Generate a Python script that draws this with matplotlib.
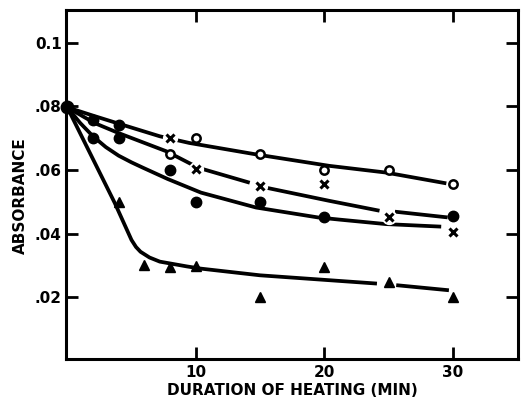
import numpy as np
import matplotlib
matplotlib.use("Agg")
import matplotlib.pyplot as plt

open_x = [8, 10, 15, 20, 25, 30]
open_y = [0.065, 0.070, 0.065, 0.060, 0.060, 0.0555]

cross_x = [8, 10, 15, 20, 25, 30]
cross_y = [0.070, 0.0603, 0.055, 0.0555, 0.0451, 0.0406]

dot_x = [2, 4, 2, 4, 8, 10, 15, 20, 30]
dot_y = [0.0756, 0.0743, 0.0701, 0.0701, 0.060, 0.050, 0.050, 0.0451, 0.0454]

tri_x = [4, 6, 8, 10, 15, 20, 25, 30]
tri_y = [0.0498, 0.030, 0.0295, 0.0297, 0.0201, 0.0295, 0.0248, 0.0201]

start_x = [0]
start_y = [0.0797]

# hand drawn curves (nan = break in the line)
curve_a_x = [0, 2, 3.9, 7.2, 9.5, 14.7, 20.4, 24.8, 29.5]
curve_a_y = [0.0797, 0.0771, 0.0747, 0.0706, 0.0685, 0.0649, 0.0613, 0.0592, 0.0558]
curve_b_x = [0, 2.1, 4, 7.7, 10.2, 14.2, np.nan, 15.4, 20.4, 24.3, np.nan, 25.5, 29.6]
curve_b_y = [0.0797, 0.0748, 0.0716, 0.0659, 0.0607, 0.056, np.nan, 0.0545, 0.0503, 0.0472, np.nan, 0.0469, 0.0451]
curve_c_x = [0, 1, 2, 3, 4, 5, 5.9, 7.8, 10.4, 14.7, 19.5, 21.2, 24.8, 29.1]
curve_c_y = [0.0797, 0.0748, 0.0706, 0.0672, 0.0645, 0.0624, 0.0607, 0.0572, 0.0529, 0.0482, 0.0451, 0.0444, 0.043, 0.0422]
curve_d_x = [0, 3.7, 5.0, 5.35, 5.7, 6.4, 7.2, 9.3, 10.4, 15, 24.1, np.nan, 25.6, 29.7]
curve_d_y = [0.0797, 0.0496, 0.038, 0.0358, 0.0343, 0.0325, 0.0312, 0.0297, 0.029, 0.0269, 0.0243, np.nan, 0.0238, 0.0222]

x_ticks = [10, 20, 30]
x_ticklabels = ["10", "20", "30"]
y_ticks = [0.02, 0.04, 0.06, 0.08, 0.10]
y_ticklabels = [".02", ".04", ".06", ".08", "0.1"]

plt.rcParams['font.family'] = ['DejaVu Sans']
plt.rcParams['font.weight'] = 'bold'

fig = plt.figure(figsize=(5.22, 3.99), dpi=100)
ax = fig.add_axes([0.1264, 0.0995, 0.8665, 0.8755])

lw = 2.7
for cx, cy in [(curve_a_x, curve_a_y), (curve_b_x, curve_b_y),
               (curve_c_x, curve_c_y), (curve_d_x, curve_d_y)]:
    ax.plot(cx, cy, color='black', lw=lw, solid_joinstyle='round',
            solid_capstyle='butt', zorder=2)

# white halo behind the crosses, the pen stops short of them
ax.plot(cross_x, cross_y, 'o', ms=10, color='white', zorder=3)
ax.plot(cross_x, cross_y, 'x', ms=5.5, mew=2.2, color='black', zorder=4)
ax.plot(open_x, open_y, 'o', ms=6, mfc='white', mec='black', mew=1.8, zorder=4)
ax.plot(dot_x, dot_y, 'o', ms=7.5, color='black', zorder=4)
ax.plot(tri_x, tri_y, '^', ms=7.5, color='black', zorder=4)
ax.plot(start_x, start_y, 'o', ms=9, color='black', zorder=5, clip_on=False)

ax.set_xlim(-0.1, 35.1)
ax.set_ylim(0.0005, 0.1103)
ax.set_xticks(x_ticks)
ax.set_xticklabels(x_ticklabels)
ax.set_yticks(y_ticks)
ax.set_yticklabels(y_ticklabels)

ax.tick_params(direction='in', length=8.5, width=2, top=True, right=True,
               labelsize=11, colors='black')
ax.tick_params(axis='x', pad=4)
ax.tick_params(axis='y', pad=3)
for s in ax.spines.values():
    s.set_linewidth(2.2)

ax.set_xlabel("DURATION OF HEATING (MIN)", fontsize=11, fontweight='bold', labelpad=2)
ax.set_ylabel("ABSORBANCE", fontsize=11, fontweight='bold')
ax.yaxis.set_label_coords(-0.084, 0.469)

fig.savefig("out.png", dpi=100, facecolor='white')
